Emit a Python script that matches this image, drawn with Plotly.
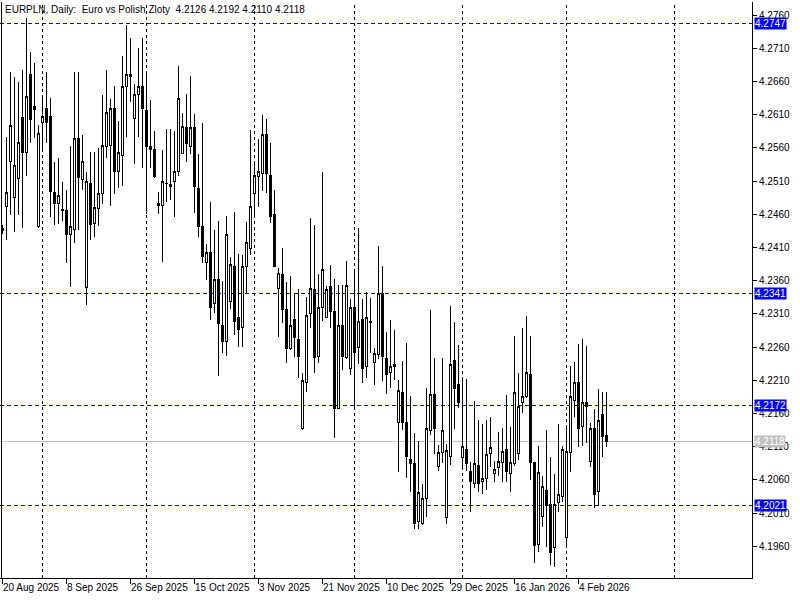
import plotly.graph_objects as go

# ---------------- data (EURPLN daily bars) ----------------
opens = [4.2439, 4.2471, 4.2539, 4.2485, 4.2514, 4.2605, 4.2553, 4.2670, 4.2622, 4.2441,
         4.2598, 4.2619, 4.2607, 4.2492, 4.2476, 4.2467, 4.2466, 4.2429, 4.2437, 4.2574,
         4.2512, 4.2349, 4.2507, 4.2446, 4.2469, 4.2491, 4.2562, 4.2563, 4.2619, 4.2524,
         4.2548, 4.2653, 4.2671, 4.2604, 4.2641, 4.2653, 4.2616, 4.2562, 4.2557, 4.2476,
         4.2473, 4.2507, 4.2501, 4.2510, 4.2524, 4.2551, 4.2590, 4.2562, 4.2590, 4.2498,
         4.2442, 4.2388, 4.2402, 4.2325, 4.2362, 4.2292, 4.2269, 4.2328, 4.2381, 4.2304,
         4.2289, 4.2381, 4.2409, 4.2491, 4.2517, 4.2522, 4.2580, 4.2518, 4.2460, 4.2348,
         4.2369, 4.2317, 4.2257, 4.2301, 4.2271, 4.2138, 4.2206, 4.2311, 4.2346, 4.2245,
         4.2319, 4.2305, 4.2351, 4.2314, 4.2168, 4.2292, 4.2244, 4.2227, 4.2320, 4.2259,
         4.2301, 4.2230, 4.2298, 4.2236, 4.2248, 4.2340, 4.2242, 4.2221, 4.2233, 4.2146,
         4.2191, 4.2147, 4.2090, 4.2084, 4.1997, 4.1994, 4.2032, 4.2135, 4.2188, 4.2080,
         4.2101, 4.2003, 4.2095, 4.2239, 4.2203, 4.2093, 4.2105, 4.2072, 4.2054, 4.2081,
         4.2057, 4.2062, 4.2099, 4.2069, 4.2078, 4.2086, 4.2105, 4.2069, 4.2084, 4.2099,
         4.2177, 4.2186, 4.2219, 4.2086, 4.1962, 4.2004, 4.2044, 4.2023, 4.1958, 4.2026,
         4.2035, 4.1973, 4.2101, 4.2179, 4.2207, 4.2140, 4.2177, 4.2088, 4.2137, 4.2042,
         4.2158, 4.2126]

highs = [4.2444, 4.2577, 4.2674, 4.2666, 4.2659, 4.2677, 4.2755, 4.2704, 4.2688, 4.2595,
         4.2635, 4.2674, 4.2635, 4.2539, 4.2545, 4.2508, 4.2497, 4.2563, 4.2674, 4.2674,
         4.2580, 4.2524, 4.2553, 4.2554, 4.2560, 4.2640, 4.2677, 4.2634, 4.2653, 4.2600,
         4.2698, 4.2745, 4.2726, 4.2656, 4.2710, 4.2726, 4.2671, 4.2632, 4.2586, 4.2494,
         4.2556, 4.2589, 4.2589, 4.2586, 4.2683, 4.2613, 4.2641, 4.2668, 4.2611, 4.2550,
         4.2598, 4.2415, 4.2479, 4.2436, 4.2450, 4.2359, 4.2457, 4.2396, 4.2464, 4.2400,
         4.2399, 4.2448, 4.2587, 4.2535, 4.2574, 4.2610, 4.2604, 4.2568, 4.2497, 4.2379,
         4.2409, 4.2358, 4.2367, 4.2340, 4.2348, 4.2221, 4.2336, 4.2454, 4.2444, 4.2370,
         4.2524, 4.2352, 4.2384, 4.2363, 4.2354, 4.2354, 4.2390, 4.2333, 4.2376, 4.2439,
         4.2333, 4.2343, 4.2334, 4.2259, 4.2412, 4.2382, 4.2282, 4.2301, 4.2286, 4.2210,
         4.2239, 4.2266, 4.2186, 4.2131, 4.2119, 4.2053, 4.2198, 4.2316, 4.2244, 4.2113,
         4.2244, 4.2114, 4.2322, 4.2298, 4.2263, 4.2212, 4.2212, 4.2087, 4.2179, 4.2150,
         4.2144, 4.2150, 4.2155, 4.2089, 4.2132, 4.2138, 4.2188, 4.2140, 4.2277, 4.2221,
         4.2289, 4.2306, 4.2277, 4.2086, 4.2111, 4.2065, 4.2135, 4.2095, 4.2068, 4.2144,
         4.2111, 4.2138, 4.2232, 4.2238, 4.2265, 4.2272, 4.2262, 4.2146, 4.2167, 4.2197,
         4.2192, 4.2192]

lows = [4.2430, 4.2421, 4.2459, 4.2433, 4.2459, 4.2439, 4.2517, 4.2568, 4.2575, 4.2439,
        4.2557, 4.2568, 4.2456, 4.2444, 4.2445, 4.2450, 4.2387, 4.2351, 4.2417, 4.2436,
        4.2497, 4.2323, 4.2421, 4.2426, 4.2442, 4.2475, 4.2544, 4.2473, 4.2491, 4.2500,
        4.2503, 4.2577, 4.2629, 4.2536, 4.2577, 4.2530, 4.2460, 4.2530, 4.2514, 4.2460,
        4.2388, 4.2478, 4.2481, 4.2456, 4.2517, 4.2550, 4.2539, 4.2550, 4.2462, 4.2426,
        4.2387, 4.2361, 4.2301, 4.2311, 4.2216, 4.2251, 4.2247, 4.2317, 4.2278, 4.2260,
        4.2260, 4.2342, 4.2399, 4.2456, 4.2471, 4.2495, 4.2492, 4.2447, 4.2381, 4.2275,
        4.2296, 4.2236, 4.2256, 4.2245, 4.2214, 4.2135, 4.2192, 4.2289, 4.2221, 4.2236,
        4.2299, 4.2304, 4.2289, 4.2123, 4.2167, 4.2225, 4.2242, 4.2218, 4.2168, 4.2235,
        4.2206, 4.2214, 4.2251, 4.2203, 4.2242, 4.2209, 4.2189, 4.2199, 4.2210, 4.2071,
        4.2135, 4.2062, 4.2041, 4.1986, 4.1986, 4.1992, 4.2004, 4.2128, 4.2099, 4.2074,
        4.2086, 4.1994, 4.2083, 4.2137, 4.2168, 4.2080, 4.2074, 4.2012, 4.2047, 4.2041,
        4.2038, 4.2045, 4.2080, 4.2056, 4.2065, 4.2057, 4.2057, 4.2041, 4.2081, 4.2090,
        4.2161, 4.2183, 4.2060, 4.1935, 4.1952, 4.1989, 4.1959, 4.1932, 4.1928, 4.2012,
        4.2027, 4.1959, 4.2072, 4.2155, 4.2110, 4.2111, 4.2116, 4.2080, 4.2018, 4.2021,
        4.2095, 4.2110]

closes = [4.2435, 4.2492, 4.2593, 4.2533, 4.2568, 4.2553, 4.2637, 4.2602, 4.2617, 4.2581,
          4.2607, 4.2598, 4.2494, 4.2476, 4.2488, 4.2466, 4.2430, 4.2441, 4.2574, 4.2515,
          4.2539, 4.2509, 4.2445, 4.2470, 4.2491, 4.2563, 4.2613, 4.2619, 4.2524, 4.2553,
          4.2653, 4.2671, 4.2668, 4.2640, 4.2653, 4.2619, 4.2562, 4.2557, 4.2517, 4.2473,
          4.2509, 4.2506, 4.2504, 4.2525, 4.2635, 4.2592, 4.2566, 4.2590, 4.2501, 4.2441,
          4.2396, 4.2402, 4.2320, 4.2362, 4.2295, 4.2269, 4.2429, 4.2384, 4.2298, 4.2286,
          4.2381, 4.2417, 4.2471, 4.2518, 4.2524, 4.2580, 4.2522, 4.2456, 4.2382, 4.2370,
          4.2317, 4.2257, 4.2292, 4.2275, 4.2245, 4.2209, 4.2308, 4.2348, 4.2244, 4.2319,
          4.2376, 4.2346, 4.2313, 4.2168, 4.2292, 4.2245, 4.2352, 4.2319, 4.2251, 4.2298,
          4.2228, 4.2305, 4.2297, 4.2250, 4.2340, 4.2245, 4.2218, 4.2230, 4.2230, 4.2194,
          4.2146, 4.2095, 4.2084, 4.1994, 4.2041, 4.2032, 4.2137, 4.2189, 4.2137, 4.2101,
          4.2134, 4.2104, 4.2233, 4.2198, 4.2177, 4.2110, 4.2084, 4.2057, 4.2084, 4.2054,
          4.2062, 4.2098, 4.2108, 4.2075, 4.2087, 4.2102, 4.2072, 4.2086, 4.2192, 4.2171,
          4.2186, 4.2221, 4.2086, 4.1961, 4.2071, 4.2050, 4.2021, 4.1950, 4.2023, 4.2038,
          4.2105, 4.2102, 4.2186, 4.2207, 4.2138, 4.2177, 4.2171, 4.2137, 4.2038, 4.2150,
          4.2125, 4.2118]

date_labels = ["20 Aug 2025", "8 Sep 2025", "26 Sep 2025", "15 Oct 2025", "3 Nov 2025",
               "21 Nov 2025", "10 Dec 2025", "29 Dec 2025", "16 Jan 2026", "4 Feb 2026"]
date_label_bars = [0, 16, 32, 48, 64, 80, 96, 112, 128, 144]
month_separator_bars = [10, 36, 63, 88, 115, 141, 168]

price_ticks = [4.1960, 4.2010, 4.2060, 4.2110, 4.2160, 4.2210, 4.2260, 4.2310, 4.2360,
               4.2410, 4.2460, 4.2510, 4.2560, 4.2610, 4.2660, 4.2710, 4.2760]
level_lines = [4.2747, 4.2341, 4.2172, 4.2021]
bid_price = 4.2118

NB = "\u00a0"
title_text = ("EURPLN, Daily:" + NB + NB + "Euro vs Polish Zloty" + NB + NB +
              "4.2126 4.2192 4.2110 4.2118")

# ---------------- figure ----------------
FONT = "Liberation Sans"
FS = 10
bars = list(range(len(opens)))
X0, X1 = -0.625, 187.375   # 4 px per bar over a 752 px wide plot

fig = go.Figure()
fig.add_trace(go.Candlestick(
    x=bars, open=opens, high=highs, low=lows, close=closes,
    increasing=dict(line=dict(color="black", width=1), fillcolor="white"),
    decreasing=dict(line=dict(color="black", width=1), fillcolor="black"),
    whiskerwidth=0, showlegend=False, hoverinfo="x+y",
))

shapes = [dict(type="line", xref="x", yref="paper", x0=-0.25, x1=-0.25, y0=0, y1=1,
               line=dict(color="black", width=1))]
for b in month_separator_bars:
    shapes.append(dict(type="line", xref="x", yref="paper", x0=b, x1=b, y0=0, y1=1,
                       line=dict(color="black", width=1, dash="3px,3px"), layer="below"))
for lv in level_lines:
    shapes.append(dict(type="line", xref="paper", yref="y", x0=0, x1=1, y0=lv, y1=lv,
                       line=dict(color="#0000ff", width=1, dash="4px,3px"), layer="below"))
shapes.append(dict(type="line", xref="paper", yref="y", x0=0, x1=1, y0=bid_price, y1=bid_price,
                   line=dict(color="#c0c0c0", width=1), layer="below"))

annotations = [dict(text=title_text, xref="paper", yref="paper", x=0, y=1,
                    xanchor="left", yanchor="top", xshift=3, yshift=0, showarrow=False,
                    font=dict(family=FONT, size=FS, color="black"))]
for b, lab in zip(date_label_bars, date_labels):
    annotations.append(dict(text=lab, xref="x", yref="paper", x=b, y=0,
                            xanchor="left", yanchor="top", yshift=-2, xshift=-2,
                            showarrow=False, font=dict(family=FONT, size=FS, color="black")))
for lv in level_lines:
    annotations.append(dict(text=f"{lv:.4f}", xref="paper", yref="y", x=1, y=lv,
                            xanchor="left", yanchor="middle", xshift=2, showarrow=False,
                            bgcolor="#0000ff", borderpad=0,
                            font=dict(family=FONT, size=FS, color="white")))
annotations.append(dict(text=f"{bid_price:.4f}", xref="paper", yref="y", x=1, y=bid_price,
                        xanchor="left", yanchor="middle", xshift=2, showarrow=False,
                        bgcolor="#c0c0c0", borderpad=0,
                        font=dict(family=FONT, size=FS, color="white")))

fig.update_layout(
    width=800, height=600,
    margin=dict(l=0, r=48, t=2, b=22, autoexpand=False),
    paper_bgcolor="white", plot_bgcolor="white",
    font=dict(family=FONT, size=FS, color="black"),
    shapes=shapes, annotations=annotations,
    showlegend=False, boxgap=0.5, boxgroupgap=0,
    xaxis=dict(range=[X0, X1], rangeslider=dict(visible=False),
               tickvals=date_label_bars, ticktext=[""] * len(date_label_bars),
               ticks="outside", ticklen=5, tickcolor="black", tickwidth=1,
               showgrid=False, zeroline=False, showline=True, linecolor="black",
               linewidth=1, fixedrange=True),
    yaxis=dict(range=[4.19121, 4.27796], side="right", tickvals=price_ticks,
               ticktext=[f"{t:.4f}" for t in price_ticks],
               ticks="outside", ticklen=4, tickcolor="black", tickwidth=1,
               showgrid=False, zeroline=False, showline=True, linecolor="black",
               linewidth=1, tickfont=dict(family=FONT, size=FS), fixedrange=True),
)

post_js = (
    "document.body.style.margin='0px';"
    "document.querySelectorAll('.shapelayer path, .boxlayer path').forEach("
    "function(p){p.style.shapeRendering='crispEdges';});"
)
fig.write_html("out.html", config={"displayModeBar": False}, post_script=post_js)
